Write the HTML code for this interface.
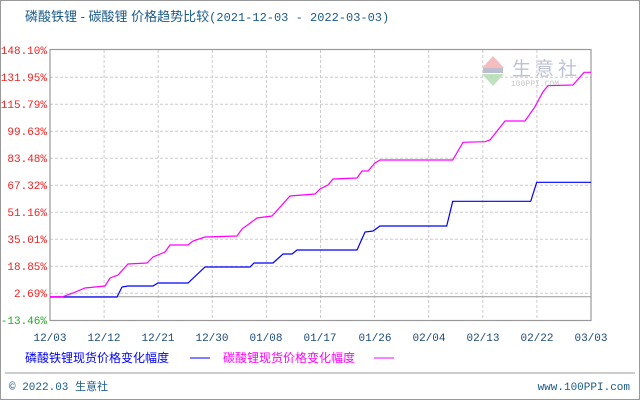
<!DOCTYPE html>
<html><head><meta charset="utf-8"><style>
html,body{margin:0;padding:0;background:#fff;}
body{width:640px;height:400px;overflow:hidden;}
</style></head><body>
<svg width="640" height="400" xmlns="http://www.w3.org/2000/svg" font-family="Liberation Sans, Noto Sans CJK SC, sans-serif">
<rect x="0.5" y="0.5" width="639" height="399" fill="#fff" stroke="#999"/>
<text x="25" y="21" font-size="13" fill="#1a5a8a">磷酸铁锂 - 碳酸锂 价格趋势比较<tspan font-family="Liberation Mono, monospace" font-size="12">(2021-12-03 - 2022-03-03)</tspan></text>
<!-- logo -->
<g opacity="0.55">
<polygon points="493,56 482,68 504,68" fill="#e88"/>
<rect x="483" y="68" width="20" height="5" fill="#88a"/>
<polygon points="482,74 504,74 493,86" fill="#8c8"/>
<text x="512" y="75" font-size="19" fill="#8890b8" letter-spacing="4">生意社</text>
<text x="511" y="86" font-size="8" fill="#999" font-family="Liberation Mono, monospace">100PPI.COM</text>
</g>
<g stroke="#ccc" stroke-dasharray="3,2" stroke-width="1">
<line x1="50" y1="77.3" x2="591" y2="77.3"/><line x1="50" y1="104.3" x2="591" y2="104.3"/>
<line x1="50" y1="131.3" x2="591" y2="131.3"/><line x1="50" y1="158.3" x2="591" y2="158.3"/>
<line x1="50" y1="185.3" x2="591" y2="185.3"/><line x1="50" y1="212.3" x2="591" y2="212.3"/>
<line x1="50" y1="239.3" x2="591" y2="239.3"/><line x1="50" y1="266.3" x2="591" y2="266.3"/>
<line x1="50" y1="293.3" x2="591" y2="293.3"/>
<line x1="104.1" y1="50" x2="104.1" y2="320"/><line x1="158.2" y1="50" x2="158.2" y2="320"/>
<line x1="212.3" y1="50" x2="212.3" y2="320"/><line x1="266.4" y1="50" x2="266.4" y2="320"/>
<line x1="320.5" y1="50" x2="320.5" y2="320"/><line x1="374.6" y1="50" x2="374.6" y2="320"/>
<line x1="428.7" y1="50" x2="428.7" y2="320"/><line x1="482.8" y1="50" x2="482.8" y2="320"/>
<line x1="536.9" y1="50" x2="536.9" y2="320"/>
</g>
<line x1="50" y1="296.7" x2="591" y2="296.7" stroke="#999"/>
<rect x="50" y="49.5" width="541" height="271" fill="none" stroke="#999" stroke-width="1.2"/>
<g font-size="11" font-family="Liberation Mono, monospace" text-anchor="end" fill="#e22">
<text x="47" y="54">148.10%</text><text x="47" y="81">131.95%</text><text x="47" y="108">115.79%</text>
<text x="47" y="135">99.63%</text><text x="47" y="162">83.48%</text><text x="47" y="189">67.32%</text>
<text x="47" y="216">51.16%</text><text x="47" y="243">35.01%</text><text x="47" y="270">18.85%</text>
<text x="47" y="297">2.69%</text><text x="47" y="324" fill="#2a2">-13.46%</text>
</g>
<g font-size="11" font-family="Liberation Mono, monospace" text-anchor="middle" fill="#1a4a7a">
<text x="50" y="341">12/03</text><text x="104" y="341">12/12</text><text x="158" y="341">12/21</text>
<text x="212" y="341">12/30</text><text x="266" y="341">01/08</text><text x="320" y="341">01/17</text>
<text x="375" y="341">01/26</text><text x="429" y="341">02/04</text><text x="483" y="341">02/13</text>
<text x="537" y="341">02/22</text><text x="591" y="341">03/03</text>
</g>
<polyline fill="none" stroke="#00f" stroke-width="1.2" points="50,297 117,297 122,287 128,286 153,286 158,283 188,283 205,267 250,267 254,263 273,263 283,254 292,254 297,250 357,250 365,232 373,231 380,226 446.7,226 452.7,201.3 530.7,201.3 536.7,182.3 591,182.3"/>
<polyline fill="none" stroke="#f0f" stroke-width="1.2" points="50,296.7 63,296.7 70,294 73,293 85,288 105,286 110,278 118,275 128,264 147,263 153,257 165,252 170,245 188,245 193,241 205,237 237,236 242,229 257,218 272,216 290,196 315,194 320,189 328,185 333,179 357,178 362,171 368,171 375,163 380,160 452.7,160 463,142.3 485,141.7 490,140 505,121 525,121 535,106.7 543,91.7 548,85.7 573,85 584,72.3 591,72.3"/>
<text x="25" y="362" font-size="12" fill="#00f">磷酸铁锂现货价格变化幅度</text>
<line x1="190" y1="358" x2="210" y2="358" stroke="#00f"/>
<text x="223" y="362" font-size="12" fill="#f0f">碳酸锂现货价格变化幅度</text>
<line x1="374" y1="358" x2="394" y2="358" stroke="#f0f"/>
<line x1="5" y1="373" x2="635" y2="373" stroke="#999"/>
<text x="9" y="390" font-size="11" fill="#1a5a8a" font-family="Liberation Mono, Noto Sans CJK SC, monospace">© 2022.03 生意社</text>
<text x="630" y="390" font-size="11" fill="#1a5a8a" text-anchor="end" font-family="Liberation Mono, monospace">www.100PPI.com</text>
</svg>
</body></html>
